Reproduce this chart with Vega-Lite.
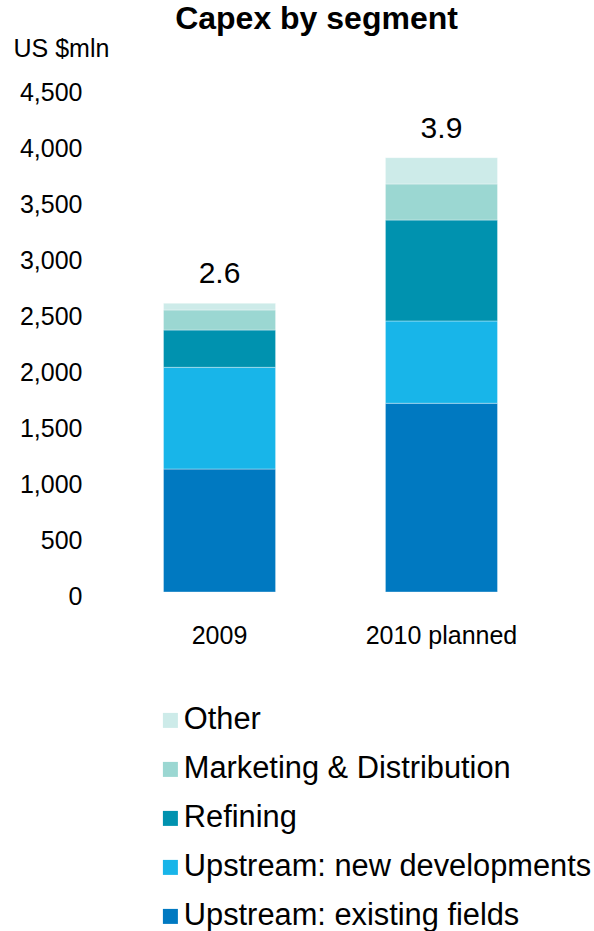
{
  "$schema": "https://vega.github.io/schema/vega-lite/v6.json",
  "autosize": {"type": "none"},
  "width": 445,
  "height": 504,
  "padding": {"left": 108, "top": 88, "right": 41, "bottom": 339},
  "background": "white",
  "title": {"text": "Capex by segment", "fontSize": 32, "fontWeight": "bold", "font": "Liberation Sans", "color": "black", "anchor": "middle", "frame": "group", "dx": -14, "offset": 0},
  "datasets": {
    "segments": [
      {"year": "2009", "segment": "Upstream: existing fields", "value": 1098, "rank": 1},
      {"year": "2009", "segment": "Upstream: new developments", "value": 908, "rank": 2},
      {"year": "2009", "segment": "Refining", "value": 333, "rank": 3},
      {"year": "2009", "segment": "Marketing & Distribution", "value": 179, "rank": 4},
      {"year": "2009", "segment": "Other", "value": 60, "rank": 5},
      {"year": "2010 planned", "segment": "Upstream: existing fields", "value": 1685, "rank": 1},
      {"year": "2010 planned", "segment": "Upstream: new developments", "value": 735, "rank": 2},
      {"year": "2010 planned", "segment": "Refining", "value": 901, "rank": 3},
      {"year": "2010 planned", "segment": "Marketing & Distribution", "value": 322, "rank": 4},
      {"year": "2010 planned", "segment": "Other", "value": 235, "rank": 5}
    ],
    "totals": [
      {"year": "2009", "total": 2578, "label": "2.6"},
      {"year": "2010 planned", "total": 3878, "label": "3.9"}
    ]
  },
  "layer": [
    {
      "data": {"name": "segments"},
      "mark": {"type": "bar", "stroke": "white", "strokeWidth": 0.6, "strokeOpacity": 0.6},
      "encoding": {
        "x": {
          "field": "year", "type": "nominal",
          "scale": {"domain": ["2009", "2010 planned"], "paddingInner": 0.495, "paddingOuter": 0.25},
          "axis": {"title": null, "labelAngle": 0, "labelFontSize": 25, "labelFont": "Liberation Sans", "labelColor": "black", "labelPadding": 31, "domain": false, "ticks": false}
        },
        "y": {
          "field": "value", "type": "quantitative", "stack": "zero",
          "scale": {"domain": [0, 4500], "nice": false},
          "axis": {"title": "US $mln", "titleAngle": 0, "titleAlign": "left", "titleBaseline": "alphabetic", "titleX": -95, "titleY": -32, "titleFontSize": 25, "titleFontWeight": "normal", "titleFont": "Liberation Sans", "titleColor": "black", "labelFontSize": 25, "labelFont": "Liberation Sans", "labelColor": "black", "labelPadding": 26, "labelOffset": 4, "domain": false, "ticks": false, "grid": false, "values": [0, 500, 1000, 1500, 2000, 2500, 3000, 3500, 4000, 4500], "format": ",d"}
        },
        "color": {
          "field": "segment", "type": "nominal",
          "scale": {
            "domain": ["Other", "Marketing & Distribution", "Refining", "Upstream: new developments", "Upstream: existing fields"],
            "range": ["#CDEBE9", "#9BD7D2", "#0092AF", "#18B5E9", "#0079C1"]
          },
          "legend": {"orient": "none", "legendX": 47, "legendY": 617, "padding": 0, "title": null, "symbolType": "square", "symbolSize": 225, "symbolStrokeWidth": 0, "symbolOpacity": 1, "labelFontSize": 30.8, "labelFont": "Liberation Sans", "labelColor": "black", "labelOffset": -2, "labelLimit": 600, "rowPadding": 17}
        },
        "order": {"field": "rank", "type": "quantitative"}
      }
    },
    {
      "data": {"name": "totals"},
      "mark": {"type": "text", "fontSize": 30, "font": "Liberation Sans", "baseline": "alphabetic", "dy": -20, "color": "black"},
      "encoding": {
        "x": {"field": "year", "type": "nominal"},
        "y": {
          "field": "total", "type": "quantitative",
          "axis": {"title": "US $mln", "titleAngle": 0, "titleAlign": "left", "titleBaseline": "alphabetic", "titleX": -95, "titleY": -32, "titleFontSize": 25, "titleFontWeight": "normal", "titleFont": "Liberation Sans", "titleColor": "black", "labelFontSize": 25, "labelFont": "Liberation Sans", "labelColor": "black", "labelPadding": 26, "labelOffset": 4, "domain": false, "ticks": false, "grid": false, "values": [0, 500, 1000, 1500, 2000, 2500, 3000, 3500, 4000, 4500], "format": ",d"}
        },
        "text": {"field": "label"}
      }
    }
  ],
  "config": {"view": {"stroke": null}, "font": "Liberation Sans"}
}
